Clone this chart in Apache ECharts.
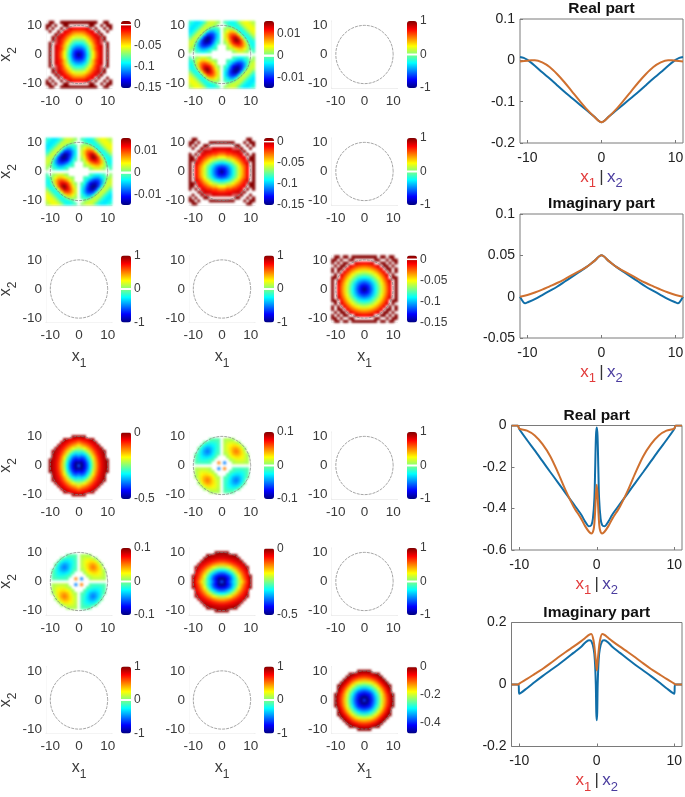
<!DOCTYPE html>
<html><head><meta charset="utf-8">
<script src="https://cdn.jsdelivr.net/npm/echarts@6/dist/echarts.min.js"></script>
<style>html,body{margin:0;padding:0;background:#fff}#c{width:685px;height:797px}</style>
</head><body><div id="c"></div>
<script>
// ---- DATA ------------------------------------------------------------------
// Quadrant tables: rows are x2 = 0..11, columns are x1 = 0..11, in thousandths.
const topRealQ = [
[-150,-135,-118,-95,-72,-52,-32,-15,-4,0,8,0],
[-135,-129,-114,-92,-70,-50,-30,-14,-4,0,8,0],
[-119,-116,-106,-86,-64,-42,-22,-12,-4,0,8,0],
[-104,-102,-94,-78,-59,-41,-23,-11,-3,0,8,0],
[-88,-87,-80,-66,-50,-34,-17,-7,-2,0,8,0],
[-73,-72,-68,-53,-40,-27,-15,-4,-2,8,0,0],
[-57,-57,-52,-42,-31,-18,-8,-3,-2,8,0,0],
[-42,-42,-37,-28,-18,-11,-5,-2,8,0,0,0],
[-26,-26,-24,-15,-10,-6,0,8,0,0,8,0],
[-11,-11,-9,-5,-2,0,8,0,0,8,0,8],
[0,0,0,0,8,8,0,0,8,0,8,8],
[8,8,8,8,8,8,8,0,0,8,8,0]];
const topCrossQ = [
[0,0,0,0,0,0,0,0,0,0,0,0],
[0,0,0,0,1,2,3,3,2,1,0,-1],
[0,0,1,2,3,5,6,6,4,2,-1,-2],
[0,0,2,4,7,9,10,9,6,2,-2,-3],
[0,1,3,7,11,13,13,10,6,1,-3,-3],
[0,2,5,9,13,16,14,9,3,-2,-3,-2],
[0,3,6,10,13,14,10,4,-2,-3,-2,1],
[0,3,6,9,10,9,4,-2,-3,-2,1,3],
[0,2,4,6,6,3,-2,-3,-2,1,3,4],
[0,1,2,2,1,-2,-3,-2,1,3,4,4],
[0,0,-1,-2,-3,-3,-2,1,3,4,4,3],
[0,-1,-2,-3,-3,-2,1,3,4,4,3,2]];
const topRadialQ = [
[-150,-137,-122,-106,-90,-74,-58,-42,-26,-11,0,8],
[-137,-131,-118,-103,-88,-72,-57,-41,-25,-10,0,8],
[-122,-118,-109,-98,-83,-68,-53,-38,-22,-8,0,8],
[-106,-103,-98,-86,-74,-61,-47,-32,-18,-4,0,8],
[-90,-88,-83,-74,-63,-52,-39,-25,-12,-1,8,8],
[-74,-72,-68,-61,-52,-41,-29,-17,-5,0,8,0],
[-58,-57,-53,-47,-39,-29,-18,-8,0,8,0,8],
[-42,-41,-38,-32,-25,-17,-8,-1,8,8,0,8],
[-26,-25,-22,-18,-12,-5,0,8,8,0,8,0],
[-11,-10,-8,-4,-1,0,8,8,0,8,0,8],
[0,0,0,0,8,8,0,0,8,0,8,8],
[8,8,8,8,8,0,8,8,0,8,8,0]];
const lowRealQ = [
[-400,-510,-450,-390,-314,-227,-148,-90,-48,-25,-8,0],
[-486,-490,-440,-380,-306,-222,-145,-88,-47,-25,-8,0],
[-430,-440,-415,-350,-285,-205,-134,-80,-44,-22,-5,0],
[-378,-395,-372,-318,-250,-178,-118,-70,-38,-18,0,0],
[-327,-335,-318,-270,-207,-145,-95,-57,-32,-14,0,0],
[-275,-282,-252,-210,-160,-116,-75,-44,-24,-8,0,0],
[-224,-210,-190,-155,-120,-84,-53,-32,-16,0,0,0],
[-172,-150,-132,-110,-83,-58,-38,-22,0,0,0,0],
[-120,-100,-86,-72,-52,-38,-25,0,0,0,0,0],
[-70,-62,-52,-43,-33,-10,0,0,0,0,0,0],
[-17,-17,-10,0,0,0,0,0,0,0,0,0],
[0,0,0,0,0,0,0,0,0,0,0,0]];
const lowCrossQ = [
[0,0,0,0,0,0,0,0,0,0,0,0],
[0,-50,0,0,8,12,12,12,10,8,0,0],
[0,0,0,8,14,18,20,20,16,10,0,0],
[0,0,8,18,26,30,30,26,18,8,0,0],
[0,8,14,26,38,44,40,30,18,6,0,0],
[0,12,18,30,44,52,44,30,14,0,0,0],
[0,12,20,30,40,44,36,22,4,0,0,0],
[0,12,20,26,30,30,22,8,0,0,0,0],
[0,10,16,18,18,14,4,0,0,0,0,0],
[0,8,10,8,6,0,0,0,0,0,0,0],
[0,0,0,0,0,0,0,0,0,0,0,0],
[0,0,0,0,0,0,0,0,0,0,0,0]];
const lowRadialQ = [
[-400,-480,-440,-390,-330,-270,-205,-145,-90,-45,-8,0],
[-480,-470,-425,-380,-325,-263,-200,-140,-87,-42,-8,0],
[-440,-425,-405,-360,-305,-250,-190,-130,-78,-35,-5,0],
[-390,-380,-360,-320,-270,-222,-165,-110,-62,-22,0,0],
[-330,-325,-305,-270,-235,-185,-135,-85,-45,-12,0,0],
[-270,-263,-250,-222,-185,-142,-95,-55,-22,-5,0,0],
[-205,-200,-190,-165,-135,-95,-60,-28,-10,0,0,0],
[-145,-140,-130,-110,-85,-55,-28,-11,0,0,0,0],
[-90,-87,-78,-62,-45,-22,-10,0,0,0,0,0],
[-45,-42,-35,-22,-12,-5,0,0,0,0,0,0],
[-8,-8,-5,0,0,0,0,0,0,0,0,0],
[0,0,0,0,0,0,0,0,0,0,0,0]];
const zeroQ = [[0,0,0,0,0,0,0,0,0,0,0,0],[0,0,0,0,0,0,0,0,0,0,0,0],[0,0,0,0,0,0,0,0,0,0,0,0],[0,0,0,0,0,0,0,0,0,0,0,0],[0,0,0,0,0,0,0,0,0,0,0,0],[0,0,0,0,0,0,0,0,0,0,0,0],[0,0,0,0,0,0,0,0,0,0,0,0],[0,0,0,0,0,0,0,0,0,0,0,0],[0,0,0,0,0,0,0,0,0,0,0,0],[0,0,0,0,0,0,0,0,0,0,0,0],[0,0,0,0,0,0,0,0,0,0,0,0],[0,0,0,0,0,0,0,0,0,0,0,0]];

// Boundary circle drawn in each panel
const boundaryX = [10,9.66,8.66,7.07,5,2.59,0,-2.59,-5,-7.07,-8.66,-9.66,-10,-9.66,-8.66,-7.07,-5,-2.59,0,2.59,5,7.07,8.66,9.66,10];
const boundaryY = [0,2.59,5,7.07,8.66,9.66,10,9.66,8.66,7.07,5,2.59,0,-2.59,-5,-7.07,-8.66,-9.66,-10,-9.66,-8.66,-7.07,-5,-2.59,0];

// Colour bar ranges and labels
const rangeTopReal = [-0.15,0.009], ticksTopReal = [0,-0.05,-0.1,-0.15];
const rangeTopCross = [-0.015,0.016], ticksTopCross = [0.01,0,-0.01];
const rangeUnit = [-1,1], ticksUnit = [1,0,-1];
const rangeLowReal = [-0.5,0.005], ticksLowReal = [0,-0.5];
const rangeLowCross = [-0.1,0.1], ticksLowCross = [0.1,0,-0.1];
const rangeLowRadial = [-0.48,0.001], ticksLowRadial = [0,-0.2,-0.4];

// Line profiles (left half, mirrored about x = 0)
const a1X = [-11,-10.5,-10,-9,-8,-7,-6,-5,-4,-3,-2,-1,0];
const a1Blue = [0.008,0.006,0.001,-0.013,-0.029,-0.044,-0.06,-0.076,-0.091,-0.106,-0.121,-0.136,-0.15];
const a1OrangeX = [-11,-10,-9.5,-9,-8,-7,-6,-5,-4,-3,-2,-1,0];
const a1Orange = [-0.003,-0.001,0,0,-0.005,-0.016,-0.033,-0.053,-0.075,-0.097,-0.118,-0.136,-0.15];
const a2BlueX = [-11,-10.3,-10,-9,-8,-7,-6,-5,-4,-3,-2,-1,0];
const a2Blue = [0,-0.008,-0.007,-0.003,0.002,0.007,0.012,0.018,0.024,0.03,0.036,0.043,0.05];
const a2OrangeX = [-11,-10,-9,-8,-7,-6,-5,-4,-3,-2,-1,0];
const a2Orange = [0,0.002,0.005,0.0085,0.0125,0.0165,0.021,0.026,0.031,0.036,0.043,0.05];
const b1BlueX = [-11,-10.2,-10,-9,-8,-7,-6,-5,-4,-3,-2,-1.5,-1,-0.7,-0.5,-0.3,-0.2,-0.1,0];
const b1Blue = [0,0,-0.017,-0.07,-0.12,-0.172,-0.224,-0.275,-0.327,-0.378,-0.43,-0.463,-0.486,-0.48,-0.45,-0.35,-0.2,-0.05,-0.01];
const b1OrangeX = [-11,-10.2,-10,-9,-8,-7,-6,-5,-4,-3,-2,-1.5,-1,-0.7,-0.4,-0.25,-0.1,0];
const b1Orange = [0,0,-0.015,-0.025,-0.048,-0.09,-0.148,-0.227,-0.314,-0.39,-0.45,-0.485,-0.512,-0.52,-0.5,-0.44,-0.33,-0.285];
const b2BlueX = [-11,-10.1,-10,-9,-8,-7,-6,-5,-4,-3,-2,-1.5,-1,-0.7,-0.4,-0.25,-0.12,-0.06,0];
const b2Blue = [0,0,-0.03,-0.012,0.008,0.027,0.045,0.063,0.082,0.102,0.122,0.135,0.143,0.14,0.115,0.08,0,-0.09,-0.115];
const b2OrangeX = [-11,-10.1,-10,-9,-8,-7,-6,-5,-4,-3,-2,-1.5,-1,-0.7,-0.4,-0.25,-0.1,0];
const b2Orange = [0,0,0.003,0.018,0.034,0.05,0.068,0.087,0.105,0.122,0.14,0.15,0.16,0.163,0.14,0.11,0.07,0.045];

// ---- LAYOUT & STYLE --------------------------------------------------------
const FONT = '"Liberation Sans", Arial, sans-serif';
const TXT = '#3a3a3a';
const colX = [46, 189, 331.5];
const barX = [121, 264, 407];
const rowY = [21, 138, 255.5, 432, 548, 666.5];
const CELL = 67;
const cats = []; for (let i = -11; i <= 11; i++) cats.push(String(i));

function jetStops(range, band) {
  const [lo, hi] = range, n = 256, out = [];
  const cl = v => Math.round(255 * Math.max(0, Math.min(1, v)));
  for (let i = 0; i < n; i++) {
    const t = i / (n - 1), v = lo + t * (hi - lo);
    if (Math.abs(v) <= band * (hi - lo)) { out.push('#ffffff'); continue; }
    out.push('rgb(' + cl(1.5 - Math.abs(4 * t - 3)) + ',' + cl(1.5 - Math.abs(4 * t - 2)) + ',' + cl(1.5 - Math.abs(4 * t - 1)) + ')');
  }
  return out;
}
// Expand a quadrant into the whole panel.
function expand(q, scale, odd, swap) {
  const d = [];
  for (let yi = 0; yi < 23; yi++) for (let xi = 0; xi < 23; xi++) {
    const x = xi - 11, y = yi - 11;
    const ax = Math.abs(x), ay = Math.abs(y);
    let v = swap ? q[ax][ay] : q[ay][ax];
    if (odd && x * y < 0) v = -v;
    d.push([xi, yi, v * scale]);
  }
  return d;
}
const M = 0.001;
const panels = [
 {q:topRealQ, r:rangeTopReal, t:ticksTopReal, s:M, band:0.012},
 {q:topCrossQ,r:rangeTopCross,t:ticksTopCross,s:M, odd:1, band:0.016},
 {q:zeroQ,    r:rangeUnit,    t:ticksUnit,    s:1, band:0.012},
 {q:topCrossQ,r:rangeTopCross,t:ticksTopCross,s:M, odd:1, band:0.016},
 {q:topRealQ, r:rangeTopReal, t:ticksTopReal, s:M, swap:1, band:0.012},
 {q:zeroQ,    r:rangeUnit,    t:ticksUnit,    s:1, band:0.012},
 {q:zeroQ,    r:rangeUnit,    t:ticksUnit,    s:1, band:0.012},
 {q:zeroQ,    r:rangeUnit,    t:ticksUnit,    s:1, band:0.012},
 {q:topRadialQ,r:rangeTopReal,t:ticksTopReal, s:M, band:0.012},
 {q:lowRealQ, r:rangeLowReal, t:ticksLowReal, s:M, band:0.008},
 {q:lowCrossQ,r:rangeLowCross,t:ticksLowCross,s:M, odd:1, band:0.012},
 {q:zeroQ,    r:rangeUnit,    t:ticksUnit,    s:1, band:0.012},
 {q:lowCrossQ,r:rangeLowCross,t:ticksLowCross,s:M, odd:1, band:0.012},
 {q:lowRealQ, r:rangeLowReal, t:ticksLowReal, s:M, swap:1, band:0.008},
 {q:zeroQ,    r:rangeUnit,    t:ticksUnit,    s:1, band:0.012},
 {q:zeroQ,    r:rangeUnit,    t:ticksUnit,    s:1, band:0.012},
 {q:zeroQ,    r:rangeUnit,    t:ticksUnit,    s:1, band:0.012},
 {q:lowRadialQ,r:rangeLowRadial,t:ticksLowRadial,s:M, band:0.008}
];
const subRich = c => ({
  m:{fontFamily:FONT,fontSize:16,color:c,lineHeight:26,verticalAlign:'middle'},
  s:{fontFamily:FONT,fontSize:12,color:c,lineHeight:26,verticalAlign:'bottom'}
});

const grid=[],xAxis=[],yAxis=[],series=[],visualMap=[],title=[];
panels.forEach((p,i)=>{
  const c=i%3, rowIdx=(i<9?Math.floor(i/3):3+Math.floor((i-9)/3));
  const gx=colX[c], gy=rowY[rowIdx];
  const isLeft=c===0, isBottom=rowIdx===2||rowIdx===5;
  const g=grid.length;
  grid.push({left:gx,top:gy,width:66,height:CELL,containLabel:false,outerBoundsMode:'none'});
  const lab={show:true,fontFamily:FONT,fontSize:13.5,color:TXT,interval:(k,v)=>(+v)%10===0,hideOverlap:false};
  const lineStyle={show:true,onZero:false,lineStyle:{color:'#e4e4e4',width:1}};
  const xi=xAxis.length, yi=yAxis.length;
  xAxis.push({gridIndex:g,type:'category',data:cats,position:'bottom',axisLine:lineStyle,axisTick:{show:false},splitLine:{show:false},
    axisLabel:Object.assign({},lab,{margin:6}),
    name:isBottom?'{m|x}{s|1}':'',nameLocation:'middle',nameGap:21,nameTextStyle:{rich:subRich(TXT)}});
  yAxis.push({gridIndex:g,type:'category',data:cats,position:'left',axisLine:lineStyle,axisTick:{show:false},splitLine:{show:false},
    axisLabel:Object.assign({},lab,{margin:4}),
    name:isLeft?'{m|x}{s|2}':'',nameLocation:'middle',nameGap:25,nameRotate:90,nameTextStyle:{rich:subRich(TXT)}});
  const hs=series.length;
  series.push({type:'heatmap',name:'panel'+(i+1),xAxisIndex:xi,yAxisIndex:yi,data:expand(p.q,p.s,p.odd,p.swap),
    progressive:0,silent:true,emphasis:{disabled:true},itemStyle:{borderWidth:0},zlevel:1});
  visualMap.push({type:'continuous',show:true,seriesIndex:hs,min:p.r[0],max:p.r[1],calculable:false,hoverLink:false,
    left:barX[c],top:gy,itemWidth:10,itemHeight:CELL,padding:0,text:null,showLabel:false,inRange:{color:jetStops(p.r,p.band)},textStyle:{color:'rgba(0,0,0,0)',fontSize:1}});
  // second axis pair on the same grid: true numeric scale for the boundary circle
  const xv=xAxis.length, yv=yAxis.length;
  xAxis.push({gridIndex:g,type:'value',min:-11.5,max:11.5,show:false});
  yAxis.push({gridIndex:g,type:'value',min:-11.5,max:11.5,show:false});
  series.push({type:'line',xAxisIndex:xv,yAxisIndex:yv,data:boundaryX.map((x,k)=>[x,boundaryY[k]]),smooth:0.35,showSymbol:false,silent:true,
    lineStyle:{color:'#808080',width:0.7,type:[3,1]},z:5,zlevel:2});
  // colour bar tick labels
  const gb=grid.length;
  grid.push({left:barX[c],top:gy,width:10,height:CELL,outerBoundsMode:'none'});
  xAxis.push({gridIndex:gb,type:'value',min:0,max:1,show:false});
  yAxis.push({gridIndex:gb,type:'value',min:p.r[0],max:p.r[1],position:'right',axisLine:{show:false,onZero:false},axisTick:{show:false},splitLine:{show:false},
    axisLabel:{show:true,customValues:p.t,formatter:v=>String(v),fontFamily:FONT,fontSize:12,color:TXT,margin:3}});
});

const lineCharts=[
 {name:'Real part',left:520,top:19,w:163,h:124,ymin:-0.2,ymax:0.1,step:0.1,bx:a1X,by:a1Blue,ox:a1OrangeX,oy:a1Orange},
 {name:'Imaginary part',left:520,top:214,w:163,h:124,ymin:-0.05,ymax:0.1,step:0.05,bx:a2BlueX,by:a2Blue,ox:a2OrangeX,oy:a2Orange},
 {name:'Real part',left:511.5,top:425.5,w:170.5,h:124.5,ymin:-0.6,ymax:0,step:0.2,bx:b1BlueX,by:b1Blue,ox:b1OrangeX,oy:b1Orange},
 {name:'Imaginary part',left:511.5,top:622.5,w:170.5,h:124,ymin:-0.2,ymax:0.2,step:0.2,bx:b2BlueX,by:b2Blue,ox:b2OrangeX,oy:b2Orange}
];
const mirror=(xs,ys)=>{
  const out=xs.map((x,i)=>[x,ys[i]]);
  for(let i=xs.length-1;i>=0;i--) if(xs[i]!==0) out.push([-xs[i],ys[i]]);
  return out;
};
const xRich={
  r:{fontFamily:FONT,fontSize:17,color:'#e23b3b',lineHeight:26,verticalAlign:'middle'},
  rs:{fontFamily:FONT,fontSize:13,color:'#e23b3b',lineHeight:26,verticalAlign:'bottom'},
  k:{fontFamily:FONT,fontSize:17,color:'#333',lineHeight:26,verticalAlign:'middle'},
  b:{fontFamily:FONT,fontSize:17,color:'#4a3c9e',lineHeight:26,verticalAlign:'middle'},
  bs:{fontFamily:FONT,fontSize:13,color:'#4a3c9e',lineHeight:26,verticalAlign:'bottom'}
};
lineCharts.forEach(l=>{
  const g=grid.length;
  grid.push({left:l.left,top:l.top,width:l.w,height:l.h,show:true,borderColor:'#7a7a7a',borderWidth:1,backgroundColor:'#fff',outerBoundsMode:'none'});
  const xi=xAxis.length, yi=yAxis.length;
  xAxis.push({gridIndex:g,type:'value',min:-11,max:11,axisLine:{show:false,onZero:false},splitLine:{show:false},
    axisTick:{show:true,inside:true,length:3,lineStyle:{color:'#7a7a7a'},customValues:[-10,0,10]},
    axisLabel:{fontFamily:FONT,fontSize:14,color:'#222',margin:8,customValues:[-10,0,10],formatter:v=>String(v)},
    name:'{r|x}{rs|1} {k||} {b|x}{bs|2}',nameLocation:'middle',nameGap:21,nameTextStyle:{rich:xRich}});
  yAxis.push({gridIndex:g,type:'value',min:l.ymin,max:l.ymax,interval:l.step,axisLine:{show:false,onZero:false},splitLine:{show:false},
    axisTick:{show:true,inside:true,length:3,lineStyle:{color:'#7a7a7a'}},
    axisLabel:{fontFamily:FONT,fontSize:14,color:'#222',margin:5,formatter:v=>String(+v.toFixed(2))}});
  [[l.bx,l.by,'#106ea8'],[l.ox,l.oy,'#cf702f']].forEach(([xs,ys,c],k)=>series.push({
    type:'line',xAxisIndex:xi,yAxisIndex:yi,data:mirror(xs,ys),showSymbol:false,silent:true,smooth:0.3,
    lineStyle:{color:c,width:2},z:5+k}));
  title.push({text:l.name,left:l.left+l.w/2,top:l.top-18,textAlign:'center',padding:0,
    textStyle:{fontFamily:FONT,fontWeight:'bold',fontSize:15.5,color:'#111'}});
});

const chart=echarts.init(document.getElementById('c'),null,{renderer:'canvas'});
chart.setOption({animation:false,backgroundColor:'#fff',title,grid,xAxis,yAxis,series,visualMap,tooltip:{show:false}});
// the source image is resampled, so its colour fields are soft: soften only the heat-map layer
const soften=()=>{const layer=chart.getZr().painter.getLayer(1); if(layer&&layer.dom) layer.dom.style.filter='blur(0.8px)';};
soften(); chart.on('finished',soften);
</script></body></html>
